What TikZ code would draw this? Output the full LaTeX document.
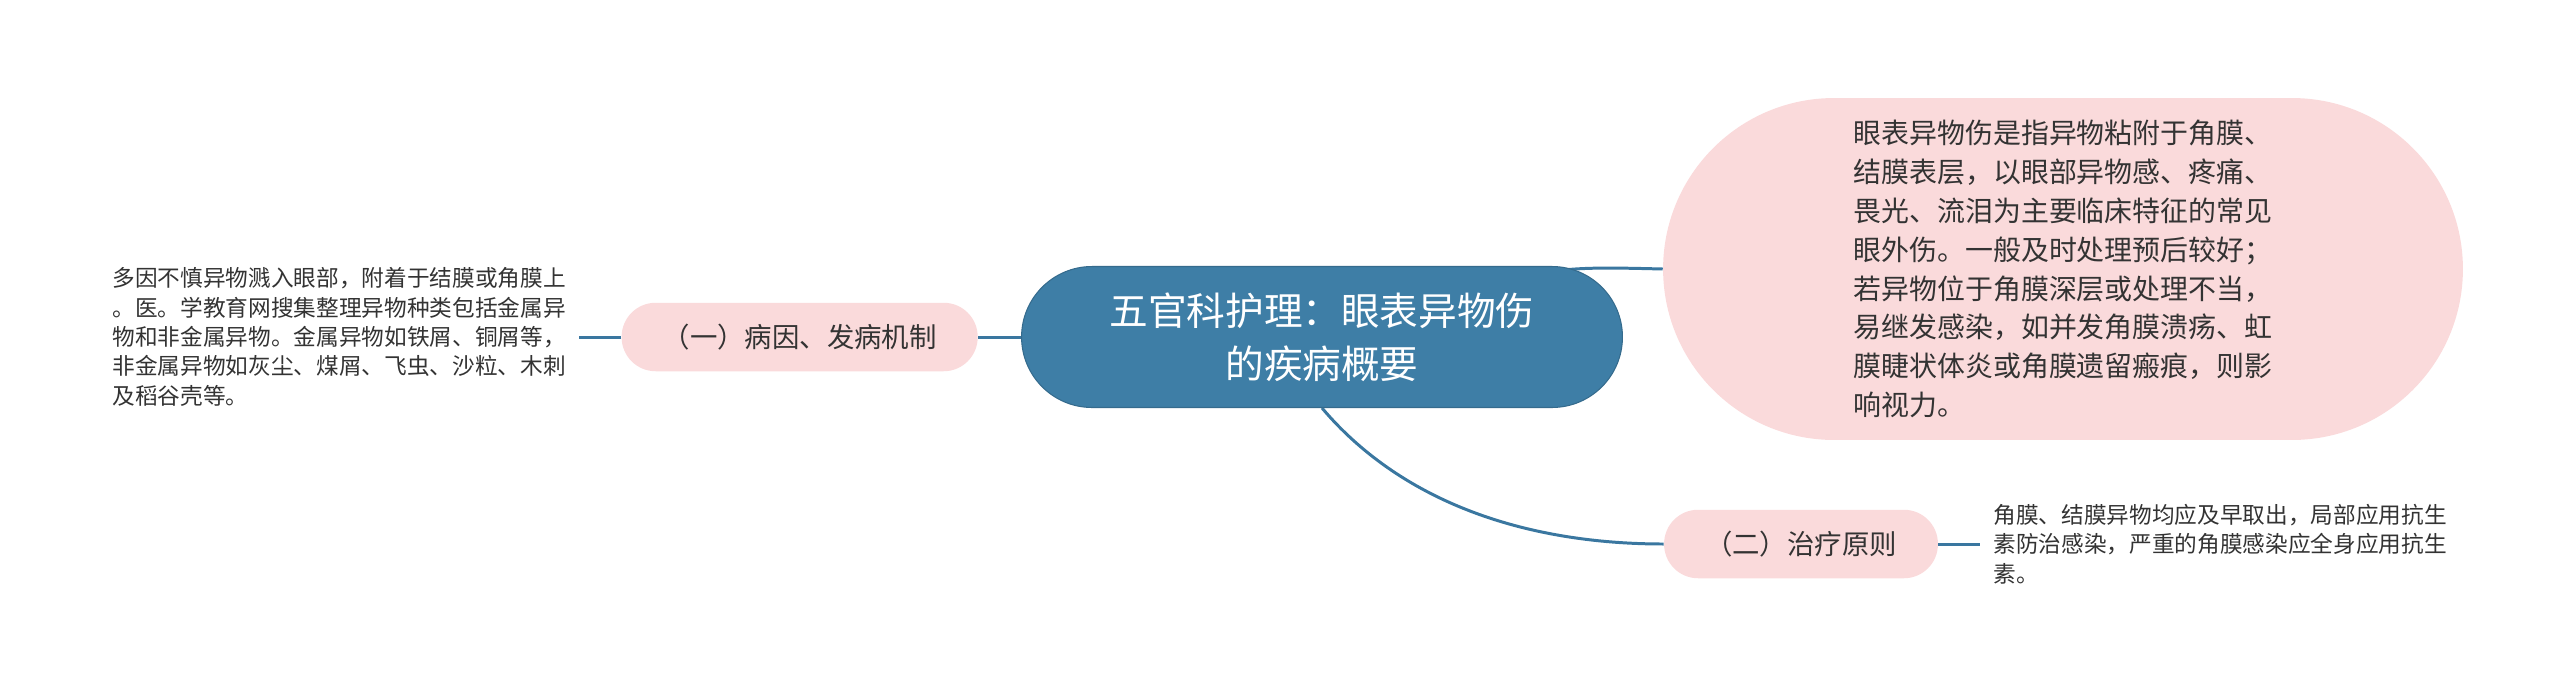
\documentclass[tikz,border=0pt]{standalone}
\usepackage{fontspec}
\setmainfont{Noto Sans CJK SC}
\usetikzlibrary{positioning, backgrounds}
\definecolor{mapblue}{HTML}{3E7EA6}
\definecolor{mapedge}{HTML}{3A77A0}
\definecolor{mappink}{HTML}{FADADB}
\definecolor{maptext}{HTML}{333333}

\begin{document}
\begin{tikzpicture}[
    x=0.02cm, y=-0.02cm,
    every node/.style={text=maptext},
    root/.style={draw=mapblue!85!black, line width=0.6pt, fill=mapblue, text=white,
                 rounded corners=1.41cm, minimum width=12.02cm, minimum height=2.82cm,
                 align=center, font=\fontsize{22pt}{30pt}\selectfont},
    topic/.style={fill=mappink, rounded corners=0.68cm, minimum height=1.37cm,
                  inner xsep=0.82cm, font=\fontsize{15.6pt}{20pt}\selectfont},
    detail/.style={fill=mappink, rounded corners=3.42cm, minimum width=16cm,
                   minimum height=6.84cm, align=left,
                   font=\fontsize{15.9pt}{22.1pt}\selectfont},
    leaf/.style={align=left, inner xsep=0.26cm,
                 font=\fontsize{12.9pt}{16.7pt}\selectfont},
    edge/.style={mapedge, line width=1.7pt},
  ]
    \useasboundingbox (0,0) rectangle (2560,697);

    % Nodes
    \node[root] (root) at (1322,337) {五官科护理：眼表异物伤\\的疾病概要};
    \node[topic, left=0.86cm of root]  (cause)     {（一）病因、发病机制};
    \node[leaf, left=0.84cm of cause]  (causeleaf) {多因不慎异物溅入眼部，附着于结膜或角膜上\\%
      。医。学教育网搜集整理异物种类包括金属异\\%
      物和非金属异物。金属异物如铁屑、铜屑等，\\%
      非金属异物如灰尘、煤屑、飞虫、沙粒、木刺\\%
      及稻谷壳等。};
    \node[detail] (detail) at (2063,269) {眼表异物伤是指异物粘附于角膜、\\%
      结膜表层，以眼部异物感、疼痛、\\%
      畏光、流泪为主要临床特征的常见\\%
      眼外伤。一般及时处理预后较好；\\%
      若异物位于角膜深层或处理不当，\\%
      易继发感染，如并发角膜溃疡、虹\\%
      膜睫状体炎或角膜遗留瘢痕，则影\\%
      响视力。};
    \node[topic] (treat) at (1801,544) {（二）治疗原则};
    \node[leaf, right=0.84cm of treat] (treatleaf) {角膜、结膜异物均应及早取出，局部应用抗生\\%
      素防治感染，严重的角膜感染应全身应用抗生\\%
      素。};

    % Branches
    \begin{scope}[on background layer]
      \draw[edge] (root) -- (cause);
      \draw[edge] (cause.west) -- (causeleaf.east);
      \draw[edge] (root.center) .. controls ([xshift=4.36cm]root.north) .. (detail.west);
      \draw[edge] (root.south) .. controls +(77,91) and +(-144,0) .. (treat.west);
      \draw[edge] (treat.east) -- (treatleaf.west);
    \end{scope}
  \end{tikzpicture}
\end{document}
